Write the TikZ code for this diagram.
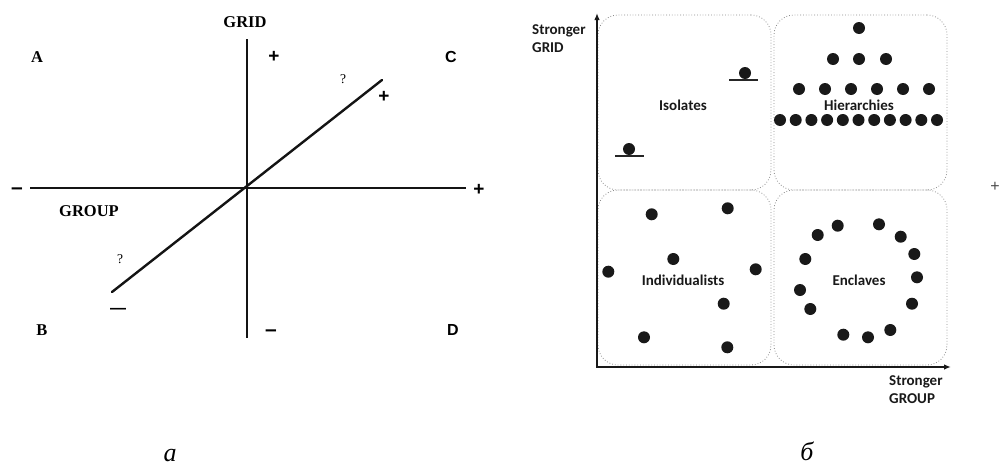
\documentclass[tikz,border=0pt]{standalone}
\usepackage{fontspec}
\setmainfont{Liberation Serif}
\newfontfamily\carl{Carlito}
\newfontfamily\arialf{Liberation Sans}
\usetikzlibrary{arrows.meta}
\tikzset{
  serifb/.style={font=\bfseries\fontsize{16.5}{18}\selectfont, inner sep=0pt},
  letterb/.style={font=\bfseries\fontsize{16.5}{18}\selectfont, inner sep=0pt},
  sansb/.style={font=\arialf\bfseries\fontsize{16}{18}\selectfont, inner sep=0pt},
  plusb/.style={font=\arialf\bfseries\fontsize{19}{20}\selectfont, inner sep=0pt},
  dashb/.style={font=\arialf\bfseries\fontsize{21}{22}\selectfont, inner sep=0pt, anchor=base},
  qmark/.style={font=\fontsize{13.5}{15}\selectfont, inner sep=0pt},
  lbl/.style={font=\carl\bfseries\fontsize{15}{18}\selectfont, inner sep=0pt, text=black!90},
  captxt/.style={font=\itshape\fontsize{26}{28}\selectfont, inner sep=0pt, anchor=base},
  dotn/.style={circle, fill=black!90, minimum size=12pt, inner sep=0pt},
  quad/.style={draw=black!45, dotted, line width=0.8pt, rounded corners=20pt},
  axisL/.style={line width=2.8pt, black!92},
  diagL/.style={line width=2.4pt, black!92, line cap=round},
  axisR/.style={line width=1.8pt, black!90},
  ledge/.style={line width=1.8pt, black!85},
}
\begin{document}
\begin{tikzpicture}[x=1pt,y=-1pt]
\useasboundingbox (0,0) rectangle (1001,466);
% ---------- panel a ----------
\coordinate (vtop) at (247,39);
\coordinate (vbot) at (247,338);
\coordinate (hl) at (30,188);
\coordinate (hr) at (466,188);
\coordinate (dtop) at (382,80);
\coordinate (dbot) at (112,292);
\draw[axisL] (vtop) -- (vbot);
\draw[axisL] (hl) -- (hr);
\draw[diagL] (dbot) -- (dtop);

\node[serifb] (grid) at (245,22) {GRID};
\node[serifb] (group) at (89,211) {GROUP};
\node[letterb] (A) at (37,57) {A};
\node[letterb] (B) at (42,330) {B};
\node[sansb] (C) at (451,57) {C};
\node[sansb] (D) at (453,330) {D};
\node[plusb] (pv) at (274,57) {+};
\node[plusb] (pd) at (384,97) {+};
\node[plusb] (ph) at (479,190) {+};
\node[dashb] (mh) at (17,194) {–};
\node[dashb] (mv) at (271,336) {–};
\node[font=\arialf\bfseries\fontsize{16}{18}\selectfont, inner sep=0pt, anchor=base] (md) at (118,313) {—};
\node[qmark] (q1) at (343,79) {?};
\node[qmark] (q2) at (120,259) {?};
\node[captxt] (capa) at (170,461) {а};

% ---------- panel b ----------
\node[quad, minimum width=173pt, minimum height=175pt] (qTL) at (684.5,102.5) {};
\node[quad, minimum width=173pt, minimum height=175pt] (qTR) at (860.5,102.5) {};
\node[quad, minimum width=173pt, minimum height=175pt] (qBL) at (684.5,277.5) {};
\node[quad, minimum width=173pt, minimum height=175pt] (qBR) at (860.5,277.5) {};

\coordinate (O) at (597,367);
\coordinate (ytop) at (597,13);
\coordinate (xend) at (951,367);
\draw[axisR, {Latex[length=7pt,width=5.5pt]}-{Latex[length=7pt,width=5.5pt]}] (ytop) -- (O) -- (xend);

\node[lbl, anchor=west, align=left] (sgrid) at (532,39) {Stronger\\GRID};
\node[lbl, anchor=west, align=left] (sgroup) at (889,390) {Stronger\\GROUP};

\node[lbl] (iso) at (683,105) {Isolates};
\node[lbl] (hie) at (859,105) {Hierarchies};
\node[lbl] (ind) at (683,280) {Individualists};
\node[lbl] (enc) at (859,280) {Enclaves};

% isolates
\node[dotn] (iso1) at (745,73) {};
\coordinate (l1a) at (729,80); \coordinate (l1b) at (758,80);
\draw[ledge] (l1a) -- (l1b);
\node[dotn] (iso2) at (629,149) {};
\coordinate (l2a) at (615,156); \coordinate (l2b) at (644,156);
\draw[ledge] (l2a) -- (l2b);

% hierarchies
\node[dotn] (h1) at (859,28) {};
\foreach \x [count=\i] in {833,859,886} \node[dotn] (h2-\i) at (\x,59) {};
\foreach \x [count=\i] in {799,825,851,877,903,929} \node[dotn] (h3-\i) at (\x,89) {};
\foreach \i in {0,...,10} \node[dotn] (h4-\i) at (780+15.7*\i,120) {};

% individualists
\foreach \p [count=\i] in {(651.7,214.3),(727.7,208.3),(673.3,259),(608.3,271.7),(755.7,269.3),(723.7,303.7),(644,337.3),(727.3,347.3)}
  \node[dotn] (ind-\i) at \p {};

% enclaves
\foreach \p [count=\i] in {(837.7,225.7),(879,224.3),(817.7,235),(900.7,236.7),(805.3,259),(914.3,254),(917,277.3),(800,290),(810.3,309),(912,303.7),(843.3,334.7),(868,337.3),(890.3,330)}
  \node[dotn] (enc-\i) at \p {};

\node[font=\arialf\fontsize{16}{18}\selectfont, text=black!70, inner sep=0pt] (stray) at (995,187) {+};

\node[captxt] (capb) at (807,460) {б};
\end{tikzpicture}
\end{document}
